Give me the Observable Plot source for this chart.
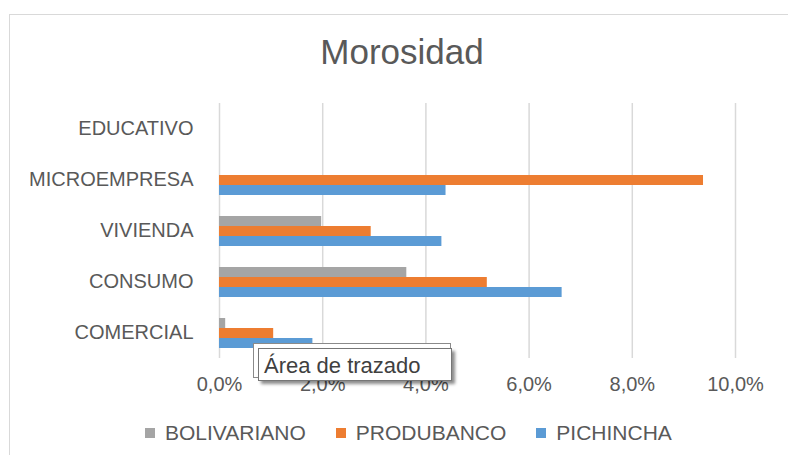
<!DOCTYPE html>
<html>
<head>
<meta charset="utf-8">
<script src="https://cdn.jsdelivr.net/npm/d3@7"></script>
<script src="https://cdn.jsdelivr.net/npm/@observablehq/plot@0.6"></script>
<style>
  html, body { margin: 0; padding: 0; background: #fff; width: 788px; height: 455px; overflow: hidden; }
  body { position: relative; font-family: "Liberation Sans", Arial, sans-serif; color: #595959; }
  #frame { position: absolute; left: 9px; top: 14px; width: 800px; height: 460px; border: 1px solid #d9d9d9; box-sizing: border-box; }
  #title { position: absolute; left: 0; top: 32px; width: 804px; text-align: center; font-size: 35px; line-height: 40px; color: #595959; }
  #chart { position: absolute; left: 0; top: 90px; }
  #legend { position: absolute; left: 145px; top: 423px; display: flex; font-size: 21px; line-height: 20px; color: #595959; }
  #legend .item { display: flex; align-items: center; margin-right: 30px; }
  #legend .sw { width: 10px; height: 10px; margin-right: 10px; }
  #tipback { position: absolute; left: 253px; top: 343px; width: 196px; height: 33px; border: 1px solid #8a8a8a; background: #fff; }
  #tip { position: absolute; left: 258px; top: 348px; width: 194px; height: 33px; border: 1px solid #767676; background: #fff; box-shadow: 3px 3px 3px rgba(0,0,0,0.45); font-size: 22px; line-height: 33px; padding-left: 5px; box-sizing: border-box; color: #404040; white-space: nowrap; }
</style>
</head>
<body>
<div id="frame"></div>
<div id="title">Morosidad</div>
<div id="chart"></div>
<div id="legend"></div>
<div id="tipback"></div>
<div id="tip">Área de trazado</div>
<script>
// ---- data ----
const categories = ["EDUCATIVO", "MICROEMPRESA", "VIVIENDA", "CONSUMO", "COMERCIAL"];
const series = ["BOLIVARIANO", "PRODUBANCO", "PICHINCHA"];
const colors = ["#a5a5a5", "#ed7d31", "#5b9bd5"];
const bolivariano = [null, null, 0.0198, 0.0363, 0.0012];
const produbanco  = [null, 0.0938, 0.0294, 0.0519, 0.0105];
const pichincha   = [null, 0.0439, 0.0431, 0.0664, 0.0181];
const xTicks = [0, 0.02, 0.04, 0.06, 0.08, 0.10];

const seriesValues = [bolivariano, produbanco, pichincha];
const rows = [];
categories.forEach((c, i) => {
  series.forEach((s, j) => {
    rows.push({category: c, series: s, value: seriesValues[j][i]});
  });
});

const locale = d3.formatLocale({decimal: ",", thousands: ".", grouping: [3], currency: ["$", ""]});
const fmt = locale.format(".1%");

const plot = Plot.plot({
  width: 788,
  height: 313,
  marginLeft: 219,
  marginRight: 53,
  marginTop: 13,
  marginBottom: 45,
  style: {fontFamily: "'Liberation Sans', Arial, sans-serif", fontSize: "20px", color: "#595959", background: "transparent", overflow: "visible"},
  x: {domain: [0, 0.10], ticks: xTicks, tickFormat: fmt, tickSize: 0, tickPadding: 18, label: null},
  y: {domain: series, axis: null, paddingInner: 0, paddingOuter: 0.97},
  fy: {domain: categories, paddingInner: 0, paddingOuter: 0, axis: "left", tickSize: 0, tickPadding: 26, label: null},
  color: {domain: series, range: colors},
  facet: {data: rows, y: "category", label: null},
  marks: [
    Plot.ruleX(xTicks, {stroke: "#d9d9d9", strokeWidth: 1.5}),
    Plot.barX(rows, {x: "value", y: "series", fill: "series", filter: d => d.value != null})
  ]
});
document.getElementById("chart").appendChild(plot);

// legend from the series arrays
const legend = d3.select("#legend");
series.forEach((s, i) => {
  const it = legend.append("div").attr("class", "item");
  it.append("div").attr("class", "sw").style("background", colors[i]);
  it.append("span").text(s);
});
</script>
</body>
</html>
